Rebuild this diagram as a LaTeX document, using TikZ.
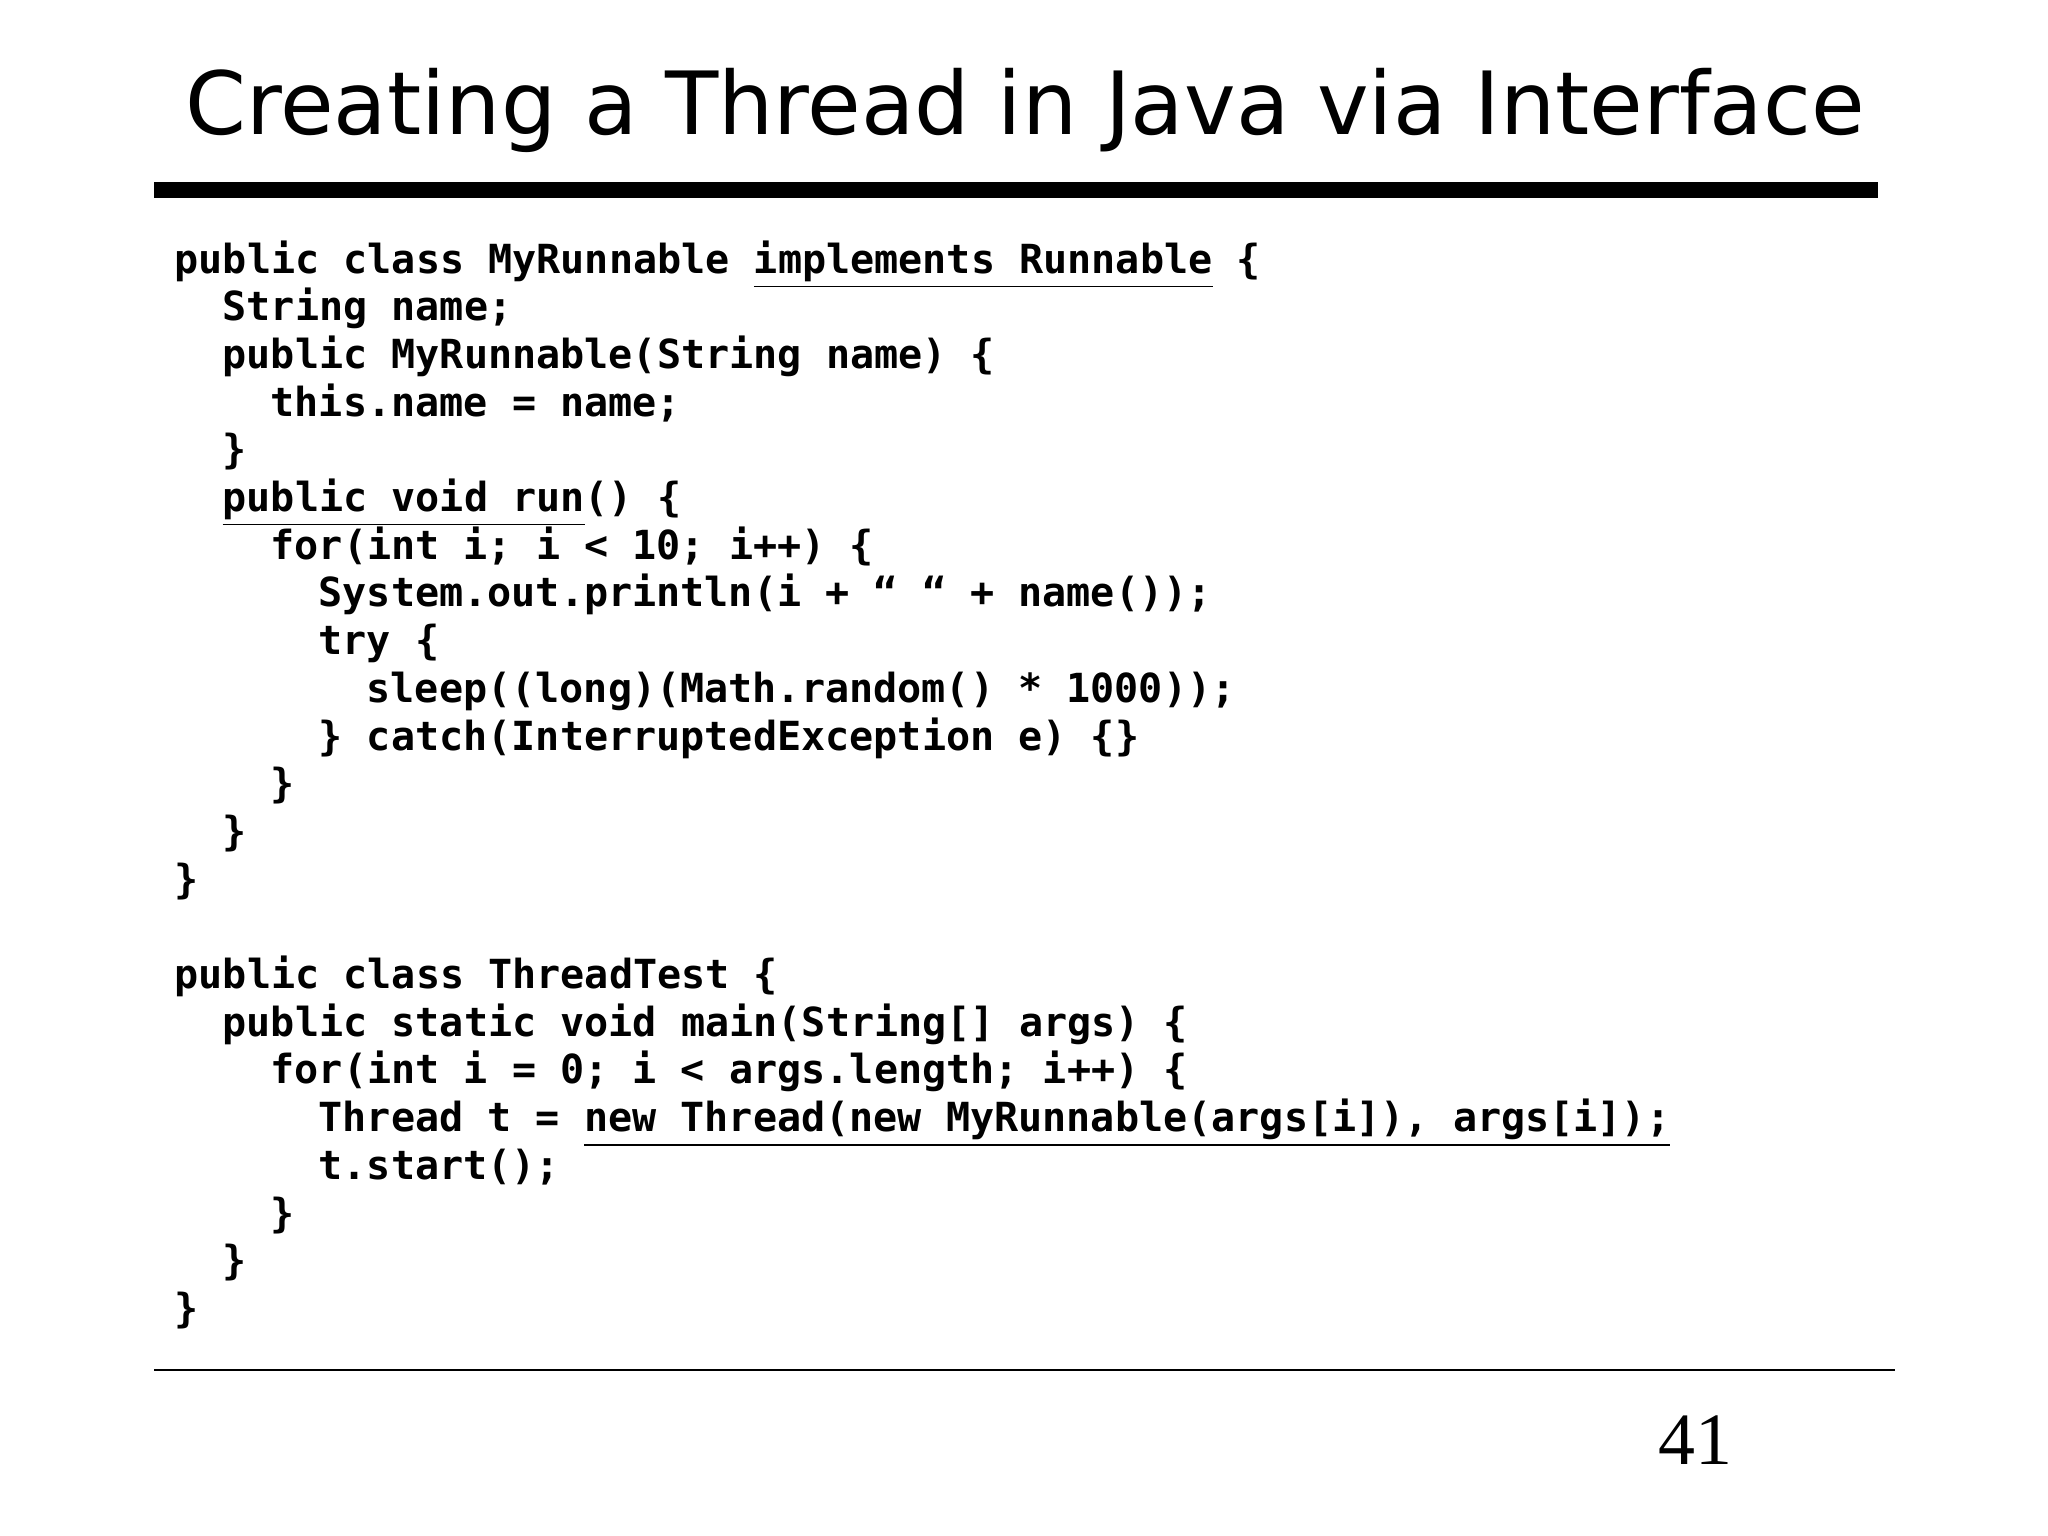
\documentclass[tikz,border=0pt]{standalone}
\usepackage{fontspec}
\setsansfont{DejaVu Sans}
\setmonofont{DejaVu Sans Mono}
\setmainfont{Liberation Serif}
\begin{document}
\begin{tikzpicture}[x=0.01cm,y=-0.01cm,
  code/.style={anchor=base west,inner sep=0pt,font=\ttfamily\bfseries\fontsize{11.4pt}{13pt}\selectfont},
  rule/.style={line width=#1}]
\useasboundingbox (0,0) rectangle (2048,1536);
\node[font=\sffamily\fontsize{24.8pt}{30pt}\selectfont,inner sep=0pt] (title) at (1025,110) {Creating a Thread in Java via Interface};
\coordinate (r1a) at (154,190); \coordinate (r1b) at (1878,190);
\draw[rule=4.55pt] (r1a) -- (r1b);
\def\cx{174}\def\ind{48}
\foreach \n/\lv/\ln/\t in {
 c1/0/0/{public class MyRunnable \underline{implements Runnable} \{},
 c2/1/1/{String name;},
 c3/1/2/{public MyRunnable(String name) \{},
 c4/2/3/{this.name = name;},
 c5/1/4/{\}},
 c6/1/5/{\underline{public void run}() \{},
 c7/2/6/{for(int i; i < 10; i++) \{},
 c8/3/7/{System.out.println(i + “ “ + name());},
 c9/3/8/{try \{},
 c10/4/9/{sleep((long)(Math.random() * 1000));},
 c11/3/10/{\} catch(InterruptedException e) \{\}},
 c12/2/11/{\}},
 c13/1/12/{\}},
 c14/0/13/{\}},
 c15/0/15/{public class ThreadTest \{},
 c16/1/16/{public static void main(String[] args) \{},
 c17/2/17/{for(int i = 0; i < args.length; i++) \{},
 c18/3/18/{Thread t = \underline{new Thread(new MyRunnable(args[i]), args[i]);}},
 c19/3/19/{t.start();},
 c20/2/20/{\}},
 c21/1/21/{\}},
 c22/0/22/{\}}}
 {\node[code] (\n) at ({\cx+\lv*\ind},{273+\ln*47.7}) {\t};}
\coordinate (r2a) at (154,1370); \coordinate (r2b) at (1895,1370);
\draw[rule=0.6pt] (r2a) -- (r2b);
\node[font=\rmfamily\fontsize{21pt}{24pt}\selectfont,inner sep=0pt] (pg) at (1695,1440) {41};
\end{tikzpicture}
\end{document}
